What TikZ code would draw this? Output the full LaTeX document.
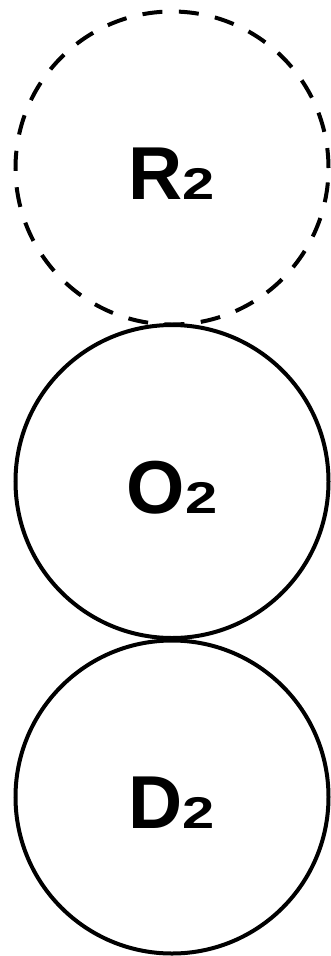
\documentclass[tikz,border=0pt]{standalone}
\usepackage{fontspec}
\setmainfont{Liberation Sans}
\usepackage{graphicx}
\newcommand{\lbltext}[1]{{\bfseries\fontsize{75}{75}\selectfont #1\fontsize{44.5}{44.5}\selectfont\scalebox{1.3}[1]{2}\hspace{9pt}}}
\begin{document}
\begin{tikzpicture}[x=1pt,y=-1pt,
  ball/.style={circle,draw=black,line width=4pt,minimum size=313pt,inner sep=0pt,outer sep=0pt,
    text height=63pt,text depth=0pt,fill=none},
  dashball/.style={ball,dash pattern=on 20pt off 16.5pt}]
\useasboundingbox (0,0) rectangle (330,956);
\node[dashball] (R) at (172,168) {\lbltext{R}};
\node[ball] (O) at (172,481.5) {\lbltext{O}};
\node[ball] (D) at (172,797) {\lbltext{D}};
\end{tikzpicture}
\end{document}
